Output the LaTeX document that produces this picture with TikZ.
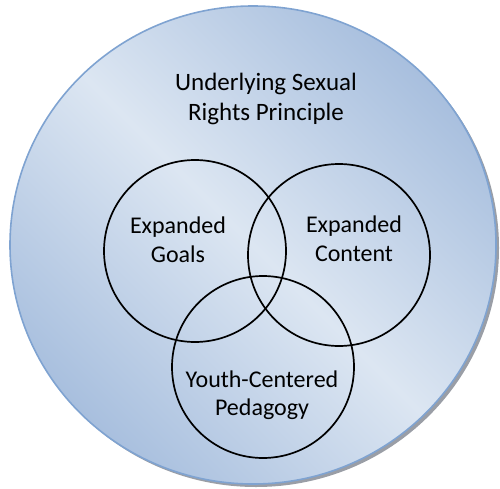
\documentclass[tikz,border=0pt]{standalone}
\usepackage{fontspec}
\setmainfont{Carlito}
\definecolor{fillDark}{HTML}{A8BFDE}
\definecolor{fillLight}{HTML}{DCE6F2}
\definecolor{rimBlue}{HTML}{7FA3D1}
\definecolor{rimShadow}{HTML}{9A9EA6}
\begin{document}
\begin{tikzpicture}[x=1pt,y=-1pt,
  setcircle/.style={circle, draw=black, line width=1.7pt, minimum size=182pt, inner sep=0pt},
  caption/.style={align=center, font=\fontsize{24}{28.5}\selectfont, inner sep=0pt, text=black}]
\useasboundingbox (0,0) rectangle (500,489);
% thin shadow rim below the disc
\fill[rimShadow] (256,248) ellipse [x radius=243, y radius=239];
% shaded background disc
\shade[top color=fillDark, bottom color=fillDark, middle color=fillLight,
       shading angle=-45, draw=rimBlue, line width=1.6pt]
  (253,245) ellipse [x radius=243, y radius=239];
\node[caption, font=\fontsize{25}{30}\selectfont] (principle) at (266,99)
  {Underlying Sexual\\Rights Principle};
% the three overlapping sets
\node[setcircle] (goals) at (195,251) {};
\node[setcircle] (content) at (339,255) {};
\node[setcircle] (pedagogy) at (263,367) {};
\node[caption] (goalsText) at (178,240) {Expanded\\Goals};
\node[caption] (contentText) at (354,239) {Expanded\\Content};
\node[caption] (pedagogyText) at (262,395) {Youth-Centered\\Pedagogy};
\end{tikzpicture}
\end{document}
